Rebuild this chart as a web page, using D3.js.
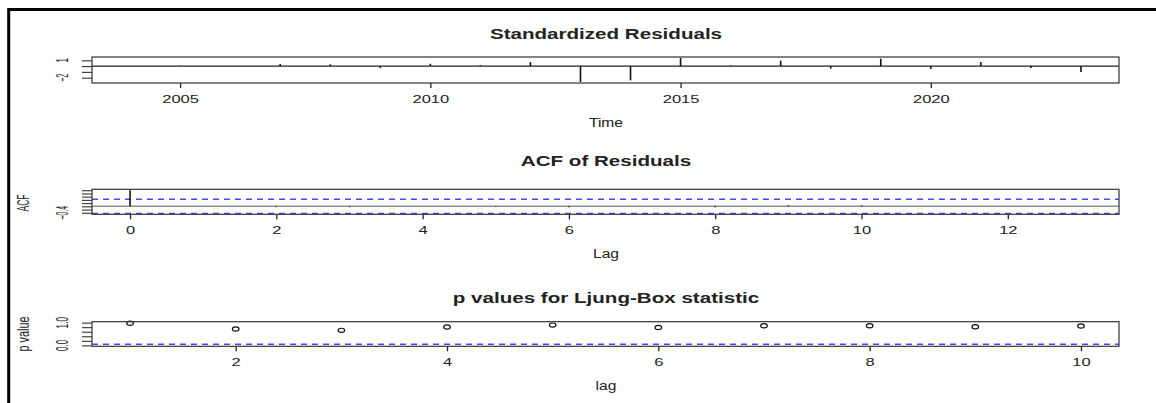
<!DOCTYPE html>
<html><head><meta charset="utf-8">
<script src="https://cdn.jsdelivr.net/npm/d3@7"></script>
<style>body{margin:0;background:#fff}svg{display:block}text{font-family:"Liberation Sans",Arial,sans-serif;fill:#222}</style>
</head><body><svg id="c" width="1156" height="403"></svg>
<script>
// ---- data ----
const years = [2004,2005,2006,2007,2008,2009,2010,2011,2012,2013,2014,2015,2016,2017,2018,2019,2020,2021,2022,2023];
const stdResiduals = [0.02,0.05,0.02,0.35,0.30,-0.35,0.40,0.15,0.70,-2.75,-2.46,1.40,0.10,0.93,-0.45,1.28,-0.50,0.70,-0.35,-1.00];
const timeTicks = [2005,2010,2015,2020];
const residYTicks = [-2,-1,0,1];
const residYLabels = [-2,1];

const acfLags = [0,1,2,3,4,5,6,7,8,9,10,11,12,13];
const acfValues = [1,0.01,-0.05,-0.05,0.01,-0.04,-0.06,0.01,-0.06,0.06,0.05,-0.01,0.0,0.0];
const acfTicks = [0,2,4,6,8,10,12];
const acfYTicks = [-0.4,-0.2,0,0.2,0.4,0.6,0.8,1.0];
const acfYLabels = [-0.4];
const acfConf = 0.438;

const lbLags = [1,2,3,4,5,6,7,8,9,10];
const pValues = [0.97,0.72,0.66,0.81,0.89,0.79,0.86,0.86,0.82,0.85];
const lbTicks = [2,4,6,8,10];
const pYTicks = [0,0.2,0.4,0.6,0.8,1.0];
const pYLabels = [0,1];
const pThreshold = 0.05;

// ---- drawing ----
const svg = d3.select("#c");
svg.append("rect").attr("width",1156).attr("height",403).attr("fill","#fff");
svg.append("path").attr("d","M8.7,403V9.5H1156").attr("fill","none").attr("stroke","#000").attr("stroke-width",3);

const X0 = 92, X1 = 1119;
const BLUE = "#4646ff";

function stretch(sel, f){ sel.each(function(){ const w=this.getComputedTextLength(); d3.select(this).attr("textLength", w*f).attr("lengthAdjust","spacingAndGlyphs"); }); }
function fixLen(sel, len){ sel.attr("textLength", len).attr("lengthAdjust","spacingAndGlyphs"); }

function panel(opt){
  const g = svg.append("g");
  const x = d3.scaleLinear().domain(opt.xdom).range([X0,X1]);
  const y = d3.scaleLinear().domain(opt.ydom).range([opt.y1,opt.y0]);
  const t = g.append("text").attr("x",606).attr("y",opt.titleY).attr("text-anchor","middle")
    .attr("font-size",14).attr("font-weight","bold").attr("fill","#111").text(opt.title);
  stretch(t,1.47);
  const xa = g.append("g").attr("transform",`translate(0,${opt.y1})`)
    .call(d3.axisBottom(x).tickValues(opt.xticks).tickSize(5).tickPadding(7).tickSizeOuter(0).tickFormat(d3.format("d")));
  xa.select(".domain").remove();
  xa.selectAll(".tick line").attr("stroke","#222").attr("stroke-width",1.3);
  xa.selectAll(".tick text").attr("font-size",11).attr("font-family","Liberation Sans, Arial").attr("fill","#222").attr("dy","0.72em");
  stretch(xa.selectAll(".tick text"),1.5);
  const xl = g.append("text").attr("x",606).attr("y",opt.xlabY).attr("text-anchor","middle").attr("font-size",12).text(opt.xlab);
  stretch(xl,1.3);
  const ya = g.append("g").attr("transform",`translate(${X0},0)`)
    .call(d3.axisLeft(y).tickValues(opt.yticks).tickSize(10).tickSizeOuter(0).tickFormat(""));
  ya.select(".domain").remove();
  ya.selectAll(".tick line").attr("stroke","#333").attr("stroke-width",1.1);
  opt.ylabels.forEach((v,i)=>{
    const tt = g.append("text").attr("transform",`translate(68,${y(v)}) scale(1.45,1) rotate(-90)`).attr("text-anchor","middle")
      .attr("font-size",11).text(opt.yfmt(v));
    fixLen(tt, opt.ylabLens[i]);
  });
  if (opt.ylab) {
    const yl = g.append("text").attr("transform",`translate(28.5,${opt.ylabCY}) scale(1.45,1) rotate(-90)`).attr("text-anchor","middle")
      .attr("font-size",11).text(opt.ylab);
    fixLen(yl, opt.ylabLen);
  }
  return {g,x,y};
}

// Panel 1
{
  const p = panel({xdom:[2003.24,2023.76], ydom:[-2.92,1.57], y0:57, y1:83, titleY:38.5, xlabY:127,
    title:"Standardized Residuals", xticks:timeTicks, xlab:"Time", yticks:residYTicks, ylabels:residYLabels, ylabLens:[7.5,4.5],
    yfmt:d3.format("d"), ylab:""});
  p.g.append("line").attr("x1",X0).attr("x2",X1).attr("y1",p.y(0)).attr("y2",p.y(0)).attr("stroke","#222").attr("stroke-width",1.2);
  p.g.selectAll("line.r").data(years.map((d,i)=>[d,stdResiduals[i]])).join("line").attr("class","r")
    .attr("x1",d=>p.x(d[0])).attr("x2",d=>p.x(d[0])).attr("y1",p.y(0)).attr("y2",d=>p.y(d[1]))
    .attr("stroke","#111").attr("stroke-width",1.6);
  p.g.append("rect").attr("x",X0).attr("y",57).attr("width",X1-X0).attr("height",26).attr("fill","none").attr("stroke","#333").attr("stroke-width",1.2);
}

// Panel 2
{
  const p = panel({xdom:[-0.52,13.52], ydom:[-0.496,1.058], y0:189.3, y1:214.3, titleY:166, xlabY:257.5,
    title:"ACF of Residuals", xticks:acfTicks, xlab:"Lag", yticks:acfYTicks, ylabels:acfYLabels, ylabLens:[13.5],
    yfmt:d3.format(".1f"), ylab:"ACF", ylabCY:203, ylabLen:17});
  p.g.append("line").attr("x1",X0).attr("x2",X1).attr("y1",p.y(0)).attr("y2",p.y(0)).attr("stroke","#8c8c8c").attr("stroke-width",1.6);
  [acfConf,-acfConf].forEach(c=>{
    p.g.append("line").attr("x1",X0).attr("x2",X1).attr("y1",p.y(c)).attr("y2",p.y(c))
      .attr("stroke",BLUE).attr("stroke-width",1.3).attr("stroke-dasharray","6,5");
  });
  p.g.selectAll("line.a").data(acfLags.map((d,i)=>[d,acfValues[i]])).join("line").attr("class","a")
    .attr("x1",d=>p.x(d[0])).attr("x2",d=>p.x(d[0])).attr("y1",p.y(0)).attr("y2",d=>p.y(d[1]))
    .attr("stroke","#111").attr("stroke-width",1.6);
  p.g.append("rect").attr("x",X0).attr("y",189.3).attr("width",X1-X0).attr("height",25).attr("fill","none").attr("stroke","#333").attr("stroke-width",1.2);
}

// Panel 3
{
  const p = panel({xdom:[0.64,10.36], ydom:[-0.04,1.04], y0:321.7, y1:346.3, titleY:302.5, xlabY:389.5,
    title:"p values for Ljung-Box statistic", xticks:lbTicks, xlab:"lag", yticks:pYTicks, ylabels:pYLabels, ylabLens:[11,11.6],
    yfmt:d3.format(".1f"), ylab:"p value", ylabCY:334, ylabLen:35});
  p.g.append("line").attr("x1",X0).attr("x2",X1).attr("y1",p.y(pThreshold)).attr("y2",p.y(pThreshold))
    .attr("stroke",BLUE).attr("stroke-width",1.3).attr("stroke-dasharray","6,5");
  p.g.selectAll("ellipse").data(lbLags.map((d,i)=>[d,pValues[i]])).join("ellipse")
    .attr("cx",d=>p.x(d[0])).attr("cy",d=>p.y(d[1])).attr("rx",3.3).attr("ry",2.1)
    .attr("fill","none").attr("stroke","#111").attr("stroke-width",1.2);
  p.g.append("rect").attr("x",X0).attr("y",321.7).attr("width",X1-X0).attr("height",24.6).attr("fill","none").attr("stroke","#333").attr("stroke-width",1.2);
}
</script></body></html>
